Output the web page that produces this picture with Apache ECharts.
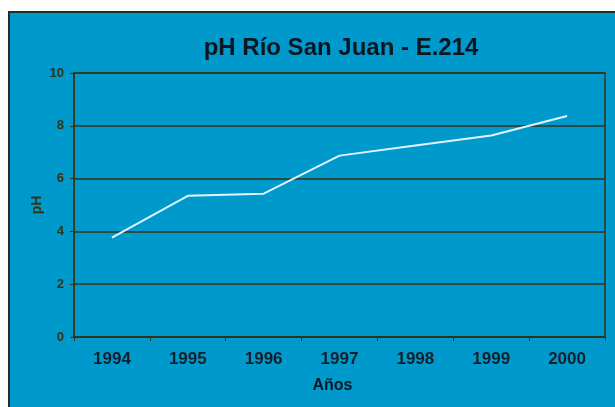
<!DOCTYPE html>
<html><head><meta charset="utf-8">
<script src="https://cdn.jsdelivr.net/npm/echarts@6/dist/echarts.min.js"></script>
<style>html,body{margin:0;padding:0;background:#fff}#c{width:615px;height:407px}</style>
</head><body><div id="c"></div>
<script>
const years = ['1994','1995','1996','1997','1998','1999','2000'];
const phValues = [3.76,5.35,5.43,6.87,7.25,7.63,8.37];
const yTicks = [0,2,4,6,8,10];

const chart = echarts.init(document.getElementById('c'), null, {renderer:'canvas'});
const dark = '#333318';
chart.setOption({
  backgroundColor:'#ffffff',
  animation:false,
  graphic:[{type:'rect',z:-10,shape:{x:9,y:12,width:620,height:410},style:{fill:'#0099cc',stroke:'#22302a',lineWidth:2}}],
  title:{text:'pH Río San Juan - E.214',left:336,top:31,textAlign:'center',
    textStyle:{fontFamily:'Liberation Sans',fontWeight:'bold',fontSize:24,color:'#0c1620'}},
  grid:{left:74,right:10,top:73,bottom:70,show:true,borderColor:dark,borderWidth:1.5,backgroundColor:'transparent'},
  xAxis:{type:'category',data:years,boundaryGap:true,
    axisLine:{lineStyle:{color:dark,width:1.5}},
    axisTick:{show:true,length:4,lineStyle:{color:dark}},
    axisLabel:{fontFamily:'Liberation Sans',fontWeight:'bold',fontSize:17,color:'#12202c',margin:14},
    name:'Años',nameLocation:'middle',nameGap:41,nameMoveOverlap:false,
    nameTextStyle:{fontFamily:'Liberation Sans',fontWeight:'bold',fontSize:16,color:'#0c1620',padding:[0,0,0,-14]}},
  yAxis:{type:'value',min:0,max:10,interval:2,
    axisLine:{show:true,lineStyle:{color:dark,width:1.5}},
    axisTick:{show:true,length:4,lineStyle:{color:dark}},
    splitLine:{lineStyle:{color:dark,width:1.5}},
    axisLabel:{fontFamily:'Liberation Sans',fontWeight:'bold',fontSize:13,color:dark,margin:10,
      formatter:v=>yTicks.includes(v)?String(v):''},
    name:'pH',nameLocation:'middle',nameGap:30,nameRotate:90,nameMoveOverlap:false,
    nameTextStyle:{fontFamily:'Liberation Sans',fontWeight:'bold',fontSize:14,color:dark}},
  series:[{type:'line',data:phValues,
    symbol:'none',lineStyle:{color:'#e2f3ff',width:2}}]
});
</script></body></html>
